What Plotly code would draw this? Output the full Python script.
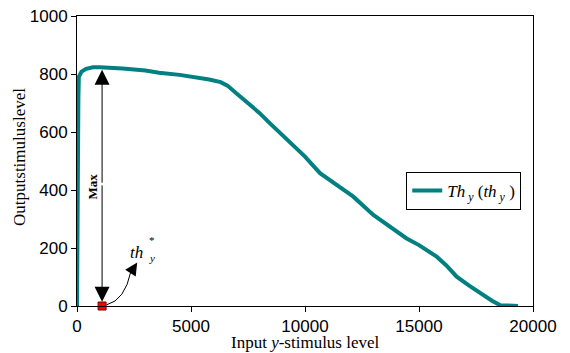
import plotly.graph_objects as go

# Curve data
input_level = [0, 20, 60, 80, 200, 400, 700, 1000, 1500, 2000, 3000, 3600, 4500, 5000,
               5800, 6300, 6600, 7000, 7500, 8000, 8465, 9000, 9635, 10000, 10658, 11535,
               12120, 12997, 13700, 14459, 15000, 15775, 16200, 16652, 17200, 17675, 18200,
               18553, 19000, 19342]
output_level = [0, 710, 715, 790, 808, 818, 823, 823, 822, 819, 812, 804, 797, 792,
                781, 772, 760, 733, 700, 666, 630, 590, 538, 515, 458, 411,
                377, 314, 275, 233, 210, 170, 140, 101, 70, 44, 18,
                3, 0, 0]

x_ticks = [0, 5000, 10000, 15000, 20000]
x_tick_labels = ["0", "5000", "10000", "15000", "20000"]
y_ticks = [0, 200, 400, 600, 800, 1000]
y_tick_labels = ["0", "200", "400", "600", "800", "1000"]

th_star_x = [1100]
th_star_y = [0]
max_value = 815

TEAL = "#008080"
SERIF = "Liberation Serif, Times New Roman, serif"
SANS = "Liberation Sans, Arial, sans-serif"

fig = go.Figure()
fig.add_trace(go.Scatter(
    x=input_level, y=output_level, mode="lines",
    line=dict(color=TEAL, width=4),
    name="<i>Th</i><sub>&nbsp;<i>y</i></sub>&nbsp;(<i>th</i><sub>&nbsp;<i>y</i></sub>&nbsp;)",
))
fig.add_trace(go.Scatter(
    x=th_star_x, y=th_star_y, mode="markers",
    marker=dict(symbol="square", size=8, color="#ff0000",
                line=dict(color="#800000", width=1)),
    showlegend=False, cliponaxis=False,
))

annotations = [
    # Max double arrow
    dict(x=th_star_x[0], y=max_value, ax=th_star_x[0], ay=420, xref="x", yref="y",
         axref="x", ayref="y", showarrow=True, arrowhead=2, arrowsize=3,
         arrowwidth=1, arrowcolor="black", text=""),
    dict(x=th_star_x[0], y=15, ax=th_star_x[0], ay=421, xref="x", yref="y",
         axref="x", ayref="y", showarrow=True, arrowhead=2, arrowsize=3,
         arrowwidth=1, arrowcolor="black", text=""),
    dict(x=680, y=410, xref="x", yref="y", text="<b>Max</b>", showarrow=False,
         textangle=-90, font=dict(family=SERIF, size=13, color="black")),
    # curved arrow head
    dict(x=2640, y=150, ax=2330, ay=112, xref="x", yref="y", axref="x", ayref="y",
         showarrow=True, arrowhead=2, arrowsize=2.5, arrowwidth=1,
         arrowcolor="black", text=""),
    # th_y^*
    dict(x=2600, y=186, xref="x", yref="y", text="<i>th</i>", showarrow=False,
         font=dict(family=SERIF, size=17, color="black")),
    dict(x=3300, y=228, xref="x", yref="y", text="*", showarrow=False,
         font=dict(family=SERIF, size=11, color="black")),
    dict(x=3300, y=164, xref="x", yref="y", text="<i>y</i>", showarrow=False,
         font=dict(family=SERIF, size=11, color="black")),
    # axis titles
    dict(x=0.5, y=-0.125, xref="paper", yref="paper", xanchor="center",
         yanchor="middle", showarrow=False,
         text="Input <i>y</i>-stimulus level",
         font=dict(family=SERIF, size=17, color="black")),
    dict(x=-0.125, y=0.514, xref="paper", yref="paper", xanchor="center",
         yanchor="middle", showarrow=False, textangle=-90,
         text="Outputstimuluslevel",
         font=dict(family=SERIF, size=17, color="black")),
]

shapes = [
    dict(type="path", xref="x", yref="y",
         path="M 1300,4 Q 2100,20 2360,118",
         line=dict(color="black", width=1)),
]

fig.update_layout(
    width=570, height=353,
    margin=dict(l=77, r=37, t=16, b=47, autoexpand=False),
    plot_bgcolor="white", paper_bgcolor="white",
    annotations=annotations, shapes=shapes,
    showlegend=True,
    legend=dict(x=0.722, y=0.462, xanchor="left", yanchor="top",
                bordercolor="black", borderwidth=1, bgcolor="white",
                font=dict(family=SERIF, size=17, color="black")),
    xaxis=dict(range=[0, 20000], tickvals=x_ticks, ticktext=x_tick_labels,
               showline=True, linecolor="black", linewidth=1, mirror=True,
               ticks="outside", ticklen=5, tickcolor="black", showgrid=False,
               zeroline=False, automargin=False,
               tickfont=dict(family=SANS, size=17, color="black")),
    yaxis=dict(range=[0, 1000], tickvals=y_ticks, ticktext=y_tick_labels,
               showline=True, linecolor="black", linewidth=1, mirror=True,
               ticks="outside", ticklen=5, tickcolor="black", showgrid=False,
               zeroline=False, automargin=False,
               tickfont=dict(family=SANS, size=17, color="black")),
)

fig.write_html("out.html",
               config={"displayModeBar": False},
               post_script="document.body.style.margin='0px';"
                           "document.body.style.padding='0px';")
